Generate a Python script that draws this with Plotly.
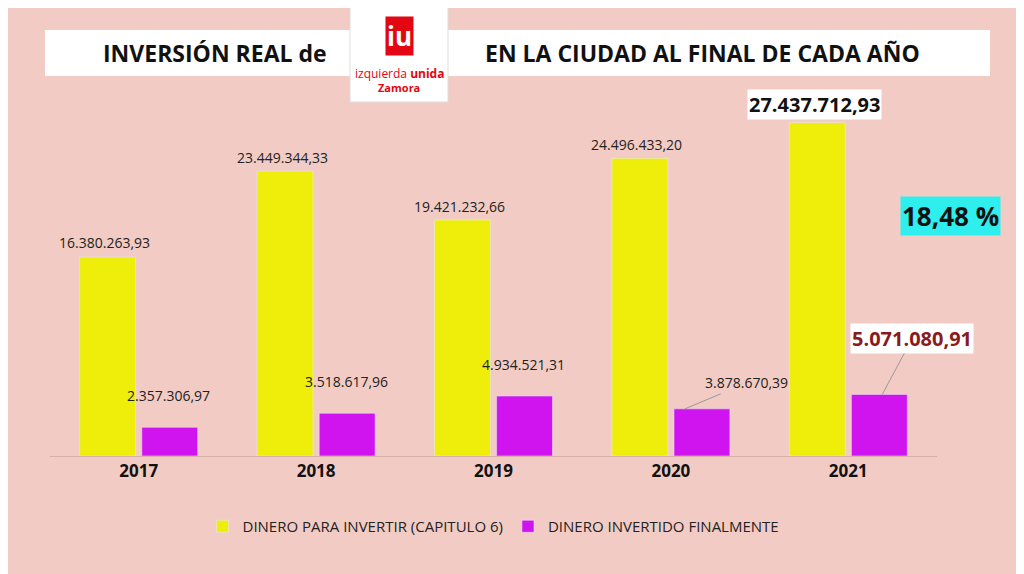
import plotly.graph_objects as go

years = ["2017", "2018", "2019", "2020", "2021"]
para_invertir = [16380263.93, 23449344.33, 19421232.66, 24496433.20, 27437712.93]
invertido = [2357306.97, 3518617.96, 4934521.31, 3878670.39, 5071080.91]
labels_para = ["16.380.263,93", "23.449.344,33", "19.421.232,66", "24.496.433,20", "27.437.712,93"]
labels_inv = ["2.357.306,97", "3.518.617,96", "4.934.521,31", "3.878.670,39", "5.071.080,91"]

bg = "#F2CCC4"
# page body adds ~8px, so everything is placed 8px up/left
OFF = 8
L, T, W, H = 45 - 3, 100 - OFF, 887, 356


def px(x):
    return (x - OFF - L) / W


def py(y):
    return (T + H - (y - OFF)) / H


fig = go.Figure()
fig.add_trace(go.Bar(name="DINERO PARA INVERTIR (CAPITULO 6)", x=years, y=para_invertir,
                     marker_color="#EEEE0A"))
fig.add_trace(go.Bar(name="DINERO INVERTIDO FINALMENTE", x=years, y=invertido,
                     marker_color="#D014F0"))

# on a category axis, annotation x is the category index
ann = []
for i in range(len(years)):
    if i < 4:
        ann.append(dict(x=i, y=para_invertir[i], text=labels_para[i], xshift=-34, yshift=14,
                        showarrow=False, font=dict(size=14, color="#222")))
    else:
        ann.append(dict(x=i, y=para_invertir[i], text="<b>" + labels_para[i] + "</b>", xshift=-34,
                        yshift=18, showarrow=False, bgcolor="white",
                        font=dict(size=20, color="#111")))
for i in range(3):
    ann.append(dict(x=i, y=invertido[i], text=labels_inv[i], xshift=30, yshift=32,
                    showarrow=False, font=dict(size=14, color="#222")))
ann.append(dict(x=3, y=invertido[3], text=labels_inv[3], ax=62, ay=-26,
                xshift=14, showarrow=True, arrowhead=0, arrowcolor="#999", arrowwidth=1,
                font=dict(size=14, color="#222")))
ann.append(dict(x=4, y=invertido[4], text="<b>" + labels_inv[4] + "</b>", ax=30, ay=-56,
                xshift=34, showarrow=True, arrowhead=0, arrowcolor="#999", arrowwidth=1,
                bgcolor="white", font=dict(size=20, color="#8B1A1A")))

paper = dict(xref="paper", yref="paper", showarrow=False, xanchor="center", yanchor="middle")
ann += [
    dict(x=px(950), y=py(216), text="<b>18,48 %</b>", bgcolor="#2EEEEE",
         font=dict(size=26, color="#111"), **paper),
    dict(x=px(215), y=py(53), text="<b>INVERSIÓN REAL de</b>",
         font=dict(size=23, color="#111"), **paper),
    dict(x=px(702), y=py(53), text="<b>EN LA CIUDAD AL FINAL DE CADA AÑO</b>",
         font=dict(size=23, color="#111"), **paper),
    dict(x=px(399), y=py(36), text="<b>iu</b>", bgcolor="#E30613",
         font=dict(size=26, color="white"), **paper),
    dict(x=px(399), y=py(73), text="izquierda <b>unida</b>",
         font=dict(size=12, color="#E30613"), **paper),
    dict(x=px(399), y=py(87), text="<b>Zamora</b>",
         font=dict(size=11, color="#E30613"), **paper),
]

fig.update_layout(
    width=1024, height=574, paper_bgcolor=bg, plot_bgcolor=bg,
    margin=dict(l=L, r=1024 - L - W, t=T, b=574 - T - H),
    barmode="group", bargap=0.3, bargroupgap=0.1,
    font=dict(family="Open Sans, Liberation Sans, sans-serif"),
    showlegend=True,
    legend=dict(orientation="h", x=0.5, xanchor="center", y=py(510), yanchor="top",
                font=dict(size=15, color="#222"), bgcolor="rgba(0,0,0,0)"),
    xaxis=dict(type="category", range=[-0.5, 4.5], autorange=False,
               tickfont=dict(size=17, color="#111", weight="bold"), showline=True,
               linecolor="#d9b0a8", ticks=""),
    yaxis=dict(visible=False, range=[0, 29.3e6], autorange=False),
    shapes=[
        dict(type="rect", xref="paper", yref="paper", x0=px(45), x1=px(990),
             y0=py(76), y1=py(30), fillcolor="white", line_width=0, layer="below"),
        dict(type="rect", xref="paper", yref="paper", x0=px(350), x1=px(448),
             y0=py(102), y1=py(4), fillcolor="white", line=dict(color="#ddd", width=1)),
    ],
    annotations=ann,
)
fig.write_html("out.html")
